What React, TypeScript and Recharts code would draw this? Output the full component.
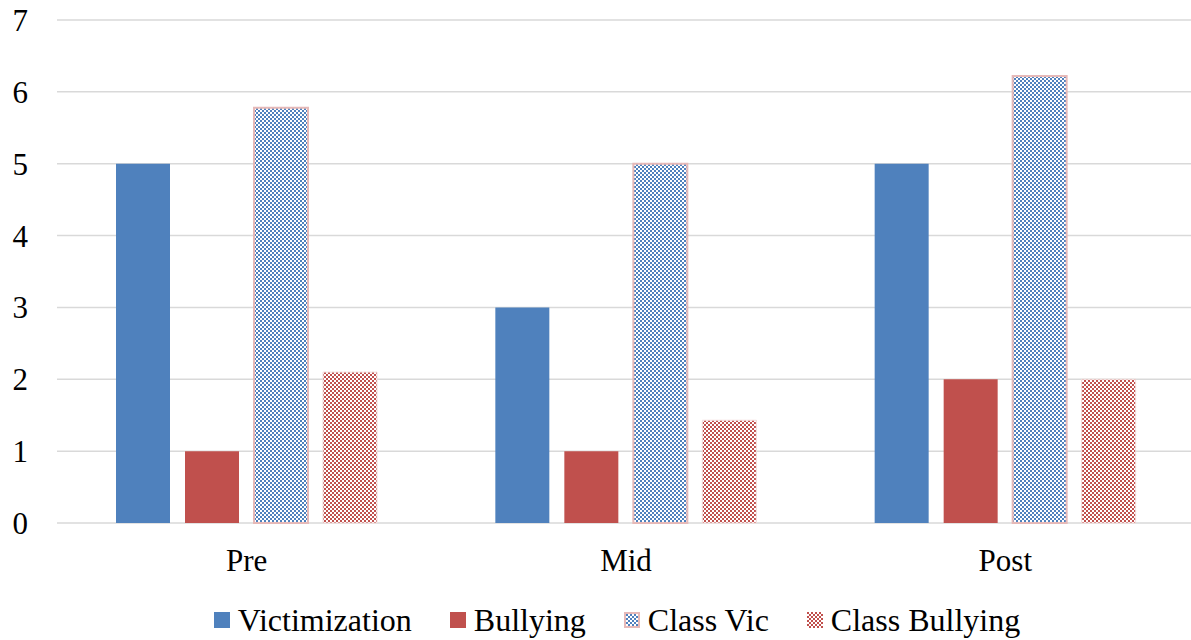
import React from 'react';
import { BarChart, Bar, XAxis, YAxis, CartesianGrid, Legend } from 'recharts';

const categories = ['Pre', 'Mid', 'Post'];
const victimization = [5, 3, 5];
const bullying = [1, 1, 2];
const classVic = [5.78, 5.0, 6.22];
const classBullying = [2.1, 1.43, 2.0];
const yTicks = [0, 1, 2, 3, 4, 5, 6, 7];

const data = categories.map((c, i) => ({
  name: c,
  victimization: victimization[i],
  bullying: bullying[i],
  classVic: classVic[i],
  classBullying: classBullying[i],
}));

const BLUE = '#4f81bd';
const RED = '#c0504d';
const PINK = '#e6b9b8';
const FONT = '"Liberation Serif", "Times New Roman", serif';

const legendItems = [
  { label: 'Victimization', fill: BLUE, stroke: 'none' },
  { label: 'Bullying', fill: RED, stroke: 'none' },
  { label: 'Class Vic', fill: 'url(#lgBlueCheck)', stroke: PINK },
  { label: 'Class Bullying', fill: 'url(#lgRedCheck)', stroke: 'none' },
];

const LegendContent = () => (
  <div
    style={{
      display: 'flex',
      justifyContent: 'center',
      alignItems: 'center',
      gap: 38,
      paddingLeft: 39,
      paddingTop: 19,
      fontFamily: FONT,
      fontSize: 32,
      lineHeight: '36px',
      color: '#000',
    }}
  >
    <svg width={0} height={0} style={{ position: 'absolute' }}>
      <defs>
        <pattern id="lgBlueCheck" width={4} height={4} patternUnits="userSpaceOnUse">
          <rect width={4} height={4} fill="#fff" />
          <rect x={0} y={0} width={2} height={2} fill={BLUE} />
          <rect x={2} y={2} width={2} height={2} fill={BLUE} />
        </pattern>
        <pattern id="lgRedCheck" width={4} height={4} patternUnits="userSpaceOnUse">
          <rect width={4} height={4} fill="#fff" />
          <rect x={0} y={0} width={2} height={2} fill={RED} />
          <rect x={2} y={2} width={2} height={2} fill={RED} />
        </pattern>
      </defs>
    </svg>
    {legendItems.map((it) => (
      <div key={it.label} style={{ display: 'flex', alignItems: 'center' }}>
        <svg width={16} height={16} style={{ marginRight: 8 }}>
          <rect
            x={it.stroke === 'none' ? 0 : 1}
            y={it.stroke === 'none' ? 0 : 1}
            width={it.stroke === 'none' ? 16 : 14}
            height={it.stroke === 'none' ? 16 : 14}
            fill={it.fill}
            stroke={it.stroke}
            strokeWidth={2}
          />
        </svg>
        <span>{it.label}</span>
      </div>
    ))}
  </div>
);

export default function App() {
  return (
    <div
      style={{
        position: 'absolute',
        left: 0,
        top: 0,
        width: 1191,
        height: 640,
        background: '#fff',
        fontFamily: FONT,
        overflow: 'hidden',
      }}
    >
      <BarChart
        width={1191}
        height={640}
        data={data}
        margin={{ top: 20, right: -4, left: 0, bottom: 0 }}
        barGap={15}
        barSize={54}
        style={{ fontFamily: FONT }}
      >
        <defs>
          <pattern id="blueCheck" width={4} height={4} patternUnits="userSpaceOnUse">
            <rect width={4} height={4} fill="#fff" />
            <rect x={0} y={0} width={2} height={2} fill={BLUE} />
            <rect x={2} y={2} width={2} height={2} fill={BLUE} />
          </pattern>
          <pattern id="redCheck" width={4} height={4} patternUnits="userSpaceOnUse">
            <rect width={4} height={4} fill="#fff" />
            <rect x={0} y={0} width={2} height={2} fill={RED} />
            <rect x={2} y={2} width={2} height={2} fill={RED} />
          </pattern>
        </defs>
        <CartesianGrid vertical={false} stroke="#d9d9d9" strokeWidth={1.5} />
        <XAxis
          dataKey="name"
          axisLine={false}
          tickLine={false}
          tickSize={0}
          tickMargin={26}
          height={60}
          tick={{ fill: '#000', fontSize: 31, fontFamily: FONT }}
        />
        <YAxis
          domain={[0, 7]}
          ticks={yTicks}
          interval={0}
          axisLine={false}
          tickLine={false}
          tickSize={0}
          tickMargin={29}
          width={57}
          tick={{ fill: '#000', fontSize: 31, fontFamily: FONT }}
        />
        <Legend verticalAlign="bottom" height={57} content={<LegendContent />} />
        <Bar dataKey="victimization" name="Victimization" fill={BLUE} isAnimationActive={false} />
        <Bar dataKey="bullying" name="Bullying" fill={RED} isAnimationActive={false} />
        <Bar
          dataKey="classVic"
          name="Class Vic"
          fill="url(#blueCheck)"
          stroke={PINK}
          strokeWidth={2}
          isAnimationActive={false}
        />
        <Bar
          dataKey="classBullying"
          name="Class Bullying"
          fill="url(#redCheck)"
          stroke="#f2dcdb"
          strokeWidth={1}
          isAnimationActive={false}
        />
      </BarChart>
    </div>
  );
}
